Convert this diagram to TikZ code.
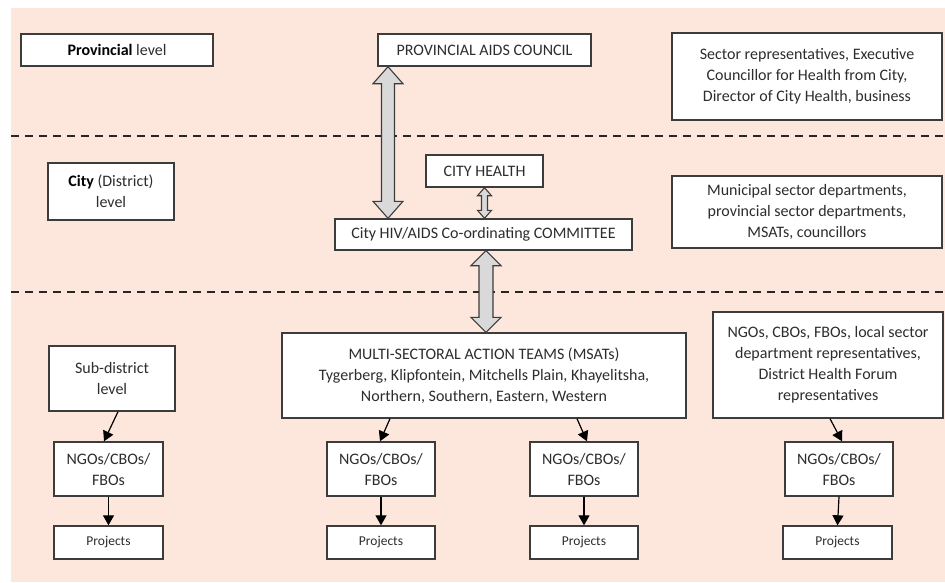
\documentclass[tikz,border=0pt]{standalone}
\usepackage{fontspec}
\setmainfont{Carlito}
\usetikzlibrary{arrows.meta,calc}
\definecolor{bgpink}{RGB}{253,230,220}
\definecolor{boxline}{RGB}{60,60,60}
\definecolor{txt}{RGB}{45,45,45}
\definecolor{arrfill}{RGB}{217,217,217}
\newcommand\bx[7][]{%
  \node[box,#1,minimum width={#5pt-#3pt},minimum height={#6pt-#4pt}] (#2) at ({(#3+#5)/2},{(#4+#6)/2}) {#7};}
% double arrow: #1 top point, #2 bottom point, #3 half shaft, #4 half head, #5 head length
\newcommand\dblarrow[5]{%
  \path[dblarr] let \p1=#1, \p2=#2 in
   (\x1,\y1) -- (\x1+#4pt,\y1-#5pt) -- (\x1+#3pt,\y1-#5pt) -- (\x1+#3pt,\y2+#5pt)
   -- (\x1+#4pt,\y2+#5pt) -- (\x1,\y2) -- (\x1-#4pt,\y2+#5pt) -- (\x1-#3pt,\y2+#5pt)
   -- (\x1-#3pt,\y1-#5pt) -- (\x1-#4pt,\y1-#5pt) -- cycle;}
\begin{document}
\begin{tikzpicture}[x=1pt,y=-1pt,
  box/.style={draw=boxline,line width=1.4pt,fill=white,inner sep=0pt,align=center,
    text=txt,font=\fontsize{16}{21}\selectfont},
  small/.style={font=\fontsize{13.5}{16}\selectfont},
  dblarr/.style={draw=boxline,line width=1.1pt,fill=arrfill,line join=miter},
  conn/.style={draw=black,line width=1.2pt,-{Triangle[length=10pt,width=11pt]}},
  sep/.style={draw=black!85,line width=1.3pt,dash pattern=on 8pt off 6pt}]
\useasboundingbox (0,0) rectangle (945,582);
\fill[bgpink] (11,8) rectangle (945,582);
\coordinate (sepL1) at (11,136);
\coordinate (sepR1) at (945,136);
\coordinate (sepL2) at (11,292);
\coordinate (sepR2) at (945,292);
\draw[sep] (sepL1) -- (sepR1);
\draw[sep] (sepL2) -- (sepR2);
% provincial row
\bx{prov}{21}{34}{213}{66}{\textcolor{black}{\textbf{Provincial}} level}
\bx{pac}{378}{34}{591}{66}{PROVINCIAL AIDS COUNCIL}
\bx{sect}{672}{33}{942}{120}{Sector representatives, Executive\\Councillor for Health from City,\\Director of City Health, business}
% city row
\bx{city}{48}{163}{174}{220}{\textcolor{black}{\textbf{City}} (District)\\level}
\bx{ch}{426}{155}{543}{187}{CITY HEALTH}
\bx{comm}{335}{219}{632}{250}{City HIV/AIDS Co-ordinating COMMITTEE}
\bx{muni}{672}{176}{942}{248}{Municipal sector departments,\\provincial sector departments,\\MSATs, councillors}
% sub-district row
\bx{sub}{49}{346}{175}{411}{Sub-district\\level}
\bx{msat}{282}{333}{686}{418}{MULTI-SECTORAL ACTION TEAMS (MSATs)\\Tygerberg, Klipfontein, Mitchells Plain, Khayelitsha,\\Northern, Southern, Eastern, Western}
\bx{info}{713}{312}{943}{418}{NGOs, CBOs, FBOs, local sector\\department representatives,\\District Health Forum\\representatives}
\bx{ngoA}{54}{442}{163}{496}{NGOs/CBOs/\\FBOs}
\bx{ngoB}{327}{442}{435}{496}{NGOs/CBOs/\\FBOs}
\bx{ngoC}{530}{442}{638}{496}{NGOs/CBOs/\\FBOs}
\bx{ngoD}{785}{442}{893}{496}{NGOs/CBOs/\\FBOs}
\bx[small]{prA}{54}{526}{163}{559}{Projects}
\bx[small]{prB}{327}{526}{435}{559}{Projects}
\bx[small]{prC}{530}{526}{638}{559}{Projects}
\bx[small]{prD}{783}{526}{892}{559}{Projects}
% double arrows
\dblarrow{([xshift=-96.5pt]pac.south)}{(comm.north)}{6.5}{15}{17}
\dblarrow{(ch.south)}{(comm.north)}{3}{7}{8}
\dblarrow{([xshift=2.5pt]comm.south)}{(msat.north)}{7}{15}{15}
% connectors
\draw[conn] ([xshift=6pt]sub.south) -- ([xshift=-4.5pt]ngoA.north);
\draw[conn] ([xshift=-94pt]msat.south) -- ([xshift=-1pt]ngoB.north);
\draw[conn] ([xshift=93pt]msat.south) -- ([xshift=3pt]ngoC.north);
\draw[conn] ([xshift=2pt]info.south) -- ([xshift=3pt]ngoD.north);
\draw[conn] (ngoA.south) -- (prA.north);
\draw[conn] (ngoB.south) -- (prB.north);
\draw[conn] (ngoC.south) -- (prC.north);
\draw[conn] (ngoD.south) -- (prD.north);
\end{tikzpicture}
\end{document}
